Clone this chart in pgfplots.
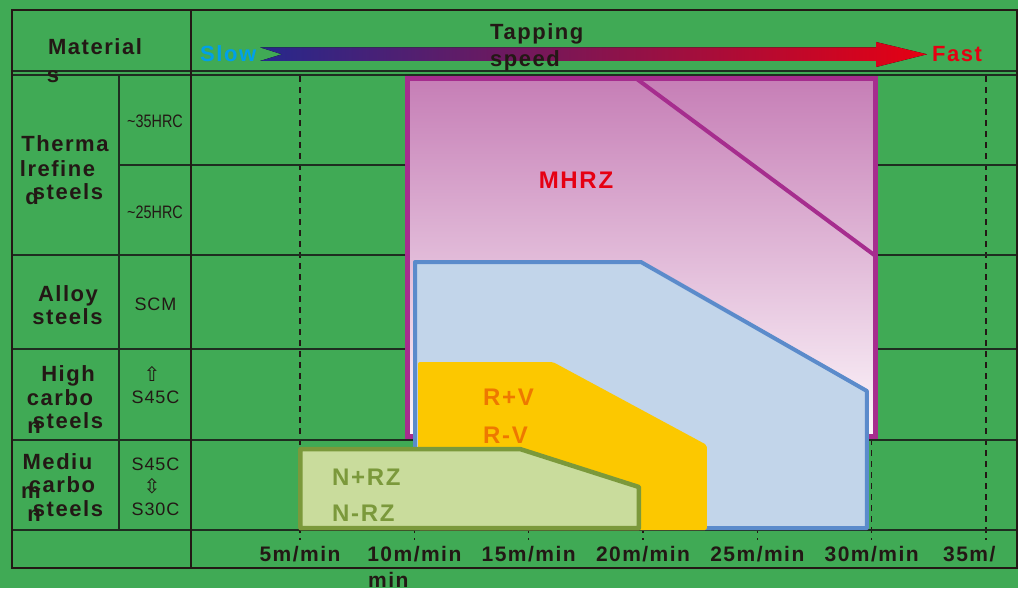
\documentclass[border=0pt]{standalone}
\usepackage{pgfplots}
\pgfplotsset{compat=1.18}
\usepackage{fontspec}
\setmainfont{Liberation Sans}
\newfontfamily\hb{Liberation Sans}[LetterSpace=7]
\newfontfamily\hr{Liberation Sans}[LetterSpace=5]
\newfontfamily\djv{DejaVu Sans}
\definecolor{bg}{RGB}{64,170,85}
\definecolor{ink}{RGB}{35,24,21}
\definecolor{gridc}{RGB}{30,45,32}
\definecolor{mag}{RGB}{166,45,142}
\definecolor{magtop}{RGB}{198,126,182}
\definecolor{magbot}{RGB}{253,247,251}
\definecolor{blueb}{RGB}{91,139,203}
\definecolor{bluef}{RGB}{194,213,234}
\definecolor{yel}{RGB}{252,200,0}
\definecolor{olb}{RGB}{123,153,59}
\definecolor{olf}{RGB}{201,220,156}
\definecolor{mred}{RGB}{230,0,18}
\definecolor{orng}{RGB}{238,120,0}
\definecolor{cyn}{RGB}{0,160,233}
\definecolor{arL}{RGB}{38,40,140}
\definecolor{arM}{RGB}{130,30,105}
\definecolor{arR}{RGB}{230,0,18}
\newcommand{\PX}[1]{((#1)-185.67)/22.867}
\tikzset{
  H/.style={font=\hb\bfseries\fontsize{22}{24}\selectfont, text=ink, inner sep=0pt, anchor=base},
  R/.style={font=\hr\fontsize{18}{20}\selectfont, text=ink, inner sep=0pt, anchor=base},
  L/.style={font=\hb\bfseries\fontsize{21}{23}\selectfont, text=ink, inner sep=0pt, anchor=base},
  C/.style={font=\hb\bfseries\fontsize{24}{26}\selectfont, inner sep=0pt, anchor=base},
}
\begin{document}
\begin{tikzpicture}
\begin{axis}[
  scale only axis, width=1018pt, height=588pt,
  xmin=-8.1195, xmax=36.398, ymin=0, ymax=588, y dir=reverse,
  axis lines=none, ticks=none, clip=false,
]
\fill[bg] (axis cs:-8.1195,0) rectangle (axis cs:36.398,588);
% dashed speed lines
\draw[ink, line width=1.2pt, dash pattern=on 6pt off 5pt] (axis cs:5,76) -- (axis cs:5,540);
\draw[ink, line width=1.2pt, dash pattern=on 6pt off 5pt] (axis cs:10,76) -- (axis cs:10,540);
\draw[ink, line width=1.2pt, dash pattern=on 6pt off 5pt] (axis cs:15,76) -- (axis cs:15,540);
\draw[ink, line width=1.2pt, dash pattern=on 6pt off 5pt] (axis cs:20,76) -- (axis cs:20,540);
\draw[ink, line width=1.2pt, dash pattern=on 6pt off 5pt] (axis cs:25,76) -- (axis cs:25,540);
\draw[ink, line width=1.2pt, dash pattern=on 6pt off 5pt] (axis cs:30,76) -- (axis cs:30,540);
\draw[ink, line width=1.2pt, dash pattern=on 6pt off 5pt] (axis cs:35,76) -- (axis cs:35,540);
% row lines
\draw[gridc, line width=1.6pt] (axis cs:{\PX{119}},165) -- (axis cs:{\PX{1016}},165);
\draw[gridc, line width=1.6pt] (axis cs:{\PX{12}},255) -- (axis cs:{\PX{1016}},255);
\draw[gridc, line width=1.6pt] (axis cs:{\PX{12}},349) -- (axis cs:{\PX{1016}},349);
\draw[gridc, line width=1.6pt] (axis cs:{\PX{12}},440) -- (axis cs:{\PX{1016}},440);
\draw[gridc, line width=1.6pt] (axis cs:{\PX{12}},530) -- (axis cs:{\PX{1016}},530);
\draw[gridc, line width=1.6pt] (axis cs:{\PX{12}},71) -- (axis cs:{\PX{1016}},71);
\draw[gridc, line width=1.6pt] (axis cs:{\PX{12}},75) -- (axis cs:{\PX{1016}},75);
\draw[gridc, line width=1.6pt] (axis cs:{\PX{119}},75) -- (axis cs:{\PX{119}},530);
\draw[ink, line width=2pt] (axis cs:{\PX{190.5}},10) -- (axis cs:{\PX{190.5}},568);
\draw[ink, line width=2pt] (axis cs:{\PX{12}},10) rectangle (axis cs:{\PX{1016.5}},568);
% MHRZ
\addplot[draw=none, top color=magtop, bottom color=magbot] coordinates {(9.7,78.5) (30.17,78.5) (30.17,436) (9.7,436)} -- cycle;
\addplot[draw=mag, line width=5pt, line join=miter] coordinates {(9.7,78.5) (30.17,78.5) (30.17,436) (9.7,436)} -- cycle;
\addplot[draw=mag, line width=4pt] coordinates {(19.7,78.5) (30.17,256)};
% R / blue
\addplot[draw=blueb, fill=bluef, line width=4pt, line join=round] coordinates {(10.03,262) (19.91,262) (29.79,391) (29.79,528) (10.03,528)} -- cycle;
% R+V yellow
\addplot[draw=none, fill=yel, rounded corners=2pt] coordinates {(10.16,362) (16.06,362) (22.79,445) (22.79,530) (10.16,530)} -- cycle;
% N+RZ olive
\addplot[draw=olb, fill=olf, line width=4.5pt, line join=round] coordinates {(5.02,449) (14.62,449) (19.82,487) (19.82,528) (5.02,528)} -- cycle;
% arrow
\fill[left color=arL, middle color=arM, right color=arR]
  (axis cs:{\PX{260}},47.3) -- (axis cs:{\PX{876}},47.3) -- (axis cs:{\PX{876}},42)
  -- (axis cs:{\PX{927}},54.3) -- (axis cs:{\PX{876}},67) -- (axis cs:{\PX{876}},61)
  -- (axis cs:{\PX{260}},61) -- (axis cs:{\PX{282}},54.3) -- cycle;
% header texts
\node[H, anchor=base west] at (axis cs:{\PX{490}},39.3) {Tapping};
\node[H, anchor=base west] at (axis cs:{\PX{490}},66.7) {speed};
\node[H, anchor=base west, text=cyn] at (axis cs:{\PX{200}},61.7) {Slow};
\node[H, anchor=base west, text=mred] at (axis cs:{\PX{932}},61.7) {Fast};
% material column
\node[H] at (axis cs:{\PX{95}},55) {Material};
\node[H] at (axis cs:{\PX{53}},82.5) {s};
\node[H] at (axis cs:{\PX{65}},151) {Therma};
\node[H] at (axis cs:{\PX{57.5}},176.5) {lrefine};
\node[H] at (axis cs:{\PX{32}},204) {d};
\node[H] at (axis cs:{\PX{68}},199) {steels};
\node[H] at (axis cs:{\PX{68}},301.7) {Alloy};
\node[H] at (axis cs:{\PX{67.5}},324) {steels};
\node[H] at (axis cs:{\PX{68}},381.7) {High};
\node[H] at (axis cs:{\PX{60}},405) {carbo};
\node[H] at (axis cs:{\PX{34}},433) {n};
\node[H] at (axis cs:{\PX{68}},428) {steels};
\node[H] at (axis cs:{\PX{57.5}},469) {Mediu};
\node[H] at (axis cs:{\PX{31}},498) {m};
\node[H] at (axis cs:{\PX{62}},492.7) {carbo};
\node[H] at (axis cs:{\PX{34}},521.7) {n};
\node[H] at (axis cs:{\PX{68}},516) {steels};
% sub column
\node[R] at (axis cs:{\PX{155}},127.7) {\scalebox{0.8}[1]{\fontsize{18}{20}\selectfont\addfontfeature{LetterSpace=0}\char`\~35HRC}};
\node[R] at (axis cs:{\PX{155}},218) {\scalebox{0.8}[1]{\fontsize{18}{20}\selectfont\addfontfeature{LetterSpace=0}\char`\~25HRC}};
\node[R] at (axis cs:{\PX{155.5}},310) {SCM};
\node[font=\djv\fontsize{20}{22}\selectfont, text=ink, inner sep=0pt] at (axis cs:{\PX{152}},374) {⇧};
\node[R] at (axis cs:{\PX{155.5}},403.3) {S45C};
\node[R] at (axis cs:{\PX{155.5}},470) {S45C};
\node[font=\djv\fontsize{20}{22}\selectfont, text=ink, inner sep=0pt] at (axis cs:{\PX{152}},486) {⇳};
\node[R] at (axis cs:{\PX{155.5}},515) {S30C};
% chart labels
\node[C, text=mred] at (axis cs:{\PX{576}},188) {MHRZ};
\node[C, anchor=base west, text=orng] at (axis cs:{\PX{483}},405) {R+V};
\node[C, anchor=base west, text=orng] at (axis cs:{\PX{483}},443.3) {R-V};
\node[C, anchor=base west, text=olb] at (axis cs:{\PX{332}},485) {N+RZ};
\node[C, anchor=base west, text=olb] at (axis cs:{\PX{332}},521.7) {N-RZ};
% speed labels
\node[L] at (axis cs:5,561.7) {5m/min};
\node[L] at (axis cs:10,561.7) {10m/min};
\node[L, anchor=base west] at (axis cs:{\PX{368}},587) {min};
\node[L] at (axis cs:15,561.7) {15m/min};
\node[L] at (axis cs:20,561.7) {20m/min};
\node[L] at (axis cs:25,561.7) {25m/min};
\node[L] at (axis cs:30,561.7) {30m/min};
\node[L, anchor=base west] at (axis cs:{\PX{943}},561.7) {35m/};
\end{axis}
\end{tikzpicture}
\end{document}
